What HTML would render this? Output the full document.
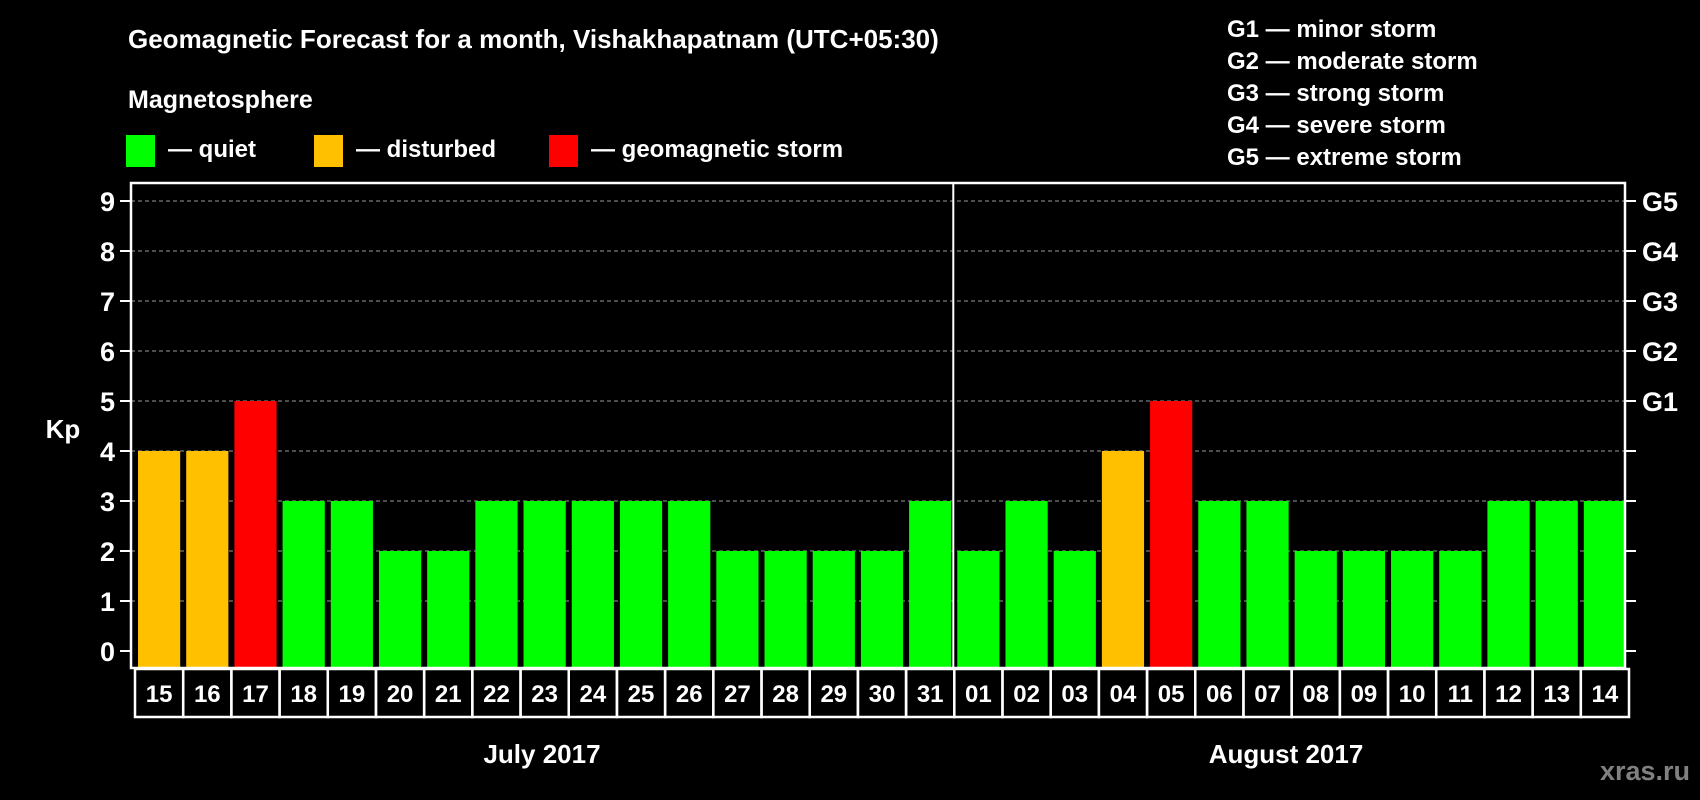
<!DOCTYPE html>
<html><head><meta charset="utf-8"><style>
html,body{margin:0;padding:0;background:#000;width:1700px;height:800px;overflow:hidden}
svg text{font-family:"Liberation Sans",Arial,sans-serif;font-weight:bold;fill:#fff}
</style></head><body>
<svg id="chart" width="1700" height="800" xmlns="http://www.w3.org/2000/svg">
<rect width="1700" height="800" fill="#000"/>
<text x="128" y="48" font-size="26">Geomagnetic Forecast for a month, Vishakhapatnam (UTC+05:30)</text>
<text x="128" y="108" font-size="25">Magnetosphere</text>
<g><rect x="126" y="135" width="29" height="32" fill="#00ff00"/><text x="168" y="157" font-size="24">— quiet</text></g>
<g><rect x="314" y="135" width="29" height="32" fill="#ffc000"/><text x="356" y="157" font-size="24">— disturbed</text></g>
<g><rect x="549" y="135" width="29" height="32" fill="#ff0000"/><text x="591" y="157" font-size="24">— geomagnetic storm</text></g>
<g font-size="24">
<text x="1227" y="37" font-size="24">G1 — minor storm</text>
<text x="1227" y="69" font-size="24">G2 — moderate storm</text>
<text x="1227" y="101" font-size="24">G3 — strong storm</text>
<text x="1227" y="133" font-size="24">G4 — severe storm</text>
<text x="1227" y="165" font-size="24">G5 — extreme storm</text>
</g>
<text x="63" y="438" font-size="26" text-anchor="middle">Kp</text>
<text x="542" y="763" font-size="26" text-anchor="middle">July 2017</text>
<text x="1286" y="763" font-size="26" text-anchor="middle">August 2017</text>
<text x="1690" y="780" font-size="27" text-anchor="end" style="fill:#808080">xras.ru</text>
<g id="plot"></g>
</svg>
<script>
const days=["15","16","17","18","19","20","21","22","23","24","25","26","27","28","29","30","31","01","02","03","04","05","06","07","08","09","10","11","12","13","14"];
const kp=[4,4,5,3,3,2,2,3,3,3,3,3,2,2,2,2,3,2,3,2,4,5,3,3,2,2,2,2,3,3,3];
const yTicks=[0,1,2,3,4,5,6,7,8,9];
const gLabels=["","","","","","G1","G2","G3","G4","G5"];
const monthSplitIndex=17;
const NS="http://www.w3.org/2000/svg";
const L=131,R=1625,T=183,B=668;
const y0=651,unit=50;
const step=(R-L)/days.length;
const y=v=>y0-v*unit;
const x=i=>L+i*step;
const g=document.getElementById('plot');
function mk(tag,a){const e=document.createElementNS(NS,tag);for(const k in a)e.setAttribute(k,a[k]);g.appendChild(e);return e;}
function color(v){return v>=5?"#ff0000":v>=4?"#ffc000":"#00ff00";}
yTicks.forEach((t,i)=>{
  if(t>0){const gl=mk('line',{x1:L,x2:R,y1:y(t),y2:y(t),stroke:'#999','stroke-dasharray':'4,3','stroke-width':1});
  
  }
  const tl=mk('line',{x1:L-11,x2:L,y1:y(t),y2:y(t),stroke:'#fff','stroke-width':2});
  
  
  const tr=mk('line',{x1:R,x2:R+11,y1:y(t),y2:y(t),stroke:'#fff','stroke-width':2});
  
  
  const lab=mk('text',{x:L-16,y:y(t)+10,'font-size':27,'text-anchor':'end'});
  lab.textContent=t;
  
  
  if(gLabels[i]){const gt=mk('text',{x:R+17,y:y(t)+10,'font-size':27});
  gt.textContent=gLabels[i];
  
  }
});
kp.forEach((v,i)=>{
  const b=mk('rect',{x:x(i)+7,y:y(v),width:step-6,height:B-y(v)-1,fill:color(v)});
  
  
  const box=mk('rect',{x:x(i)+4,y:B+1,width:step,height:48,fill:'none',stroke:'#fff','stroke-width':2.5});
  
  
  const dt=mk('text',{x:x(i)+4+step/2,y:B+34,'font-size':24,'text-anchor':'middle'});
  dt.textContent=days[i];
  
  
});
const fr=mk('rect',{x:L,y:T,width:R-L,height:B-T,fill:'none',stroke:'#fff','stroke-width':2.5});


const sp=mk('line',{x1:x(monthSplitIndex)+3,x2:x(monthSplitIndex)+3,y1:T,y2:B,stroke:'#fff','stroke-width':2});


</script>
</body></html>
